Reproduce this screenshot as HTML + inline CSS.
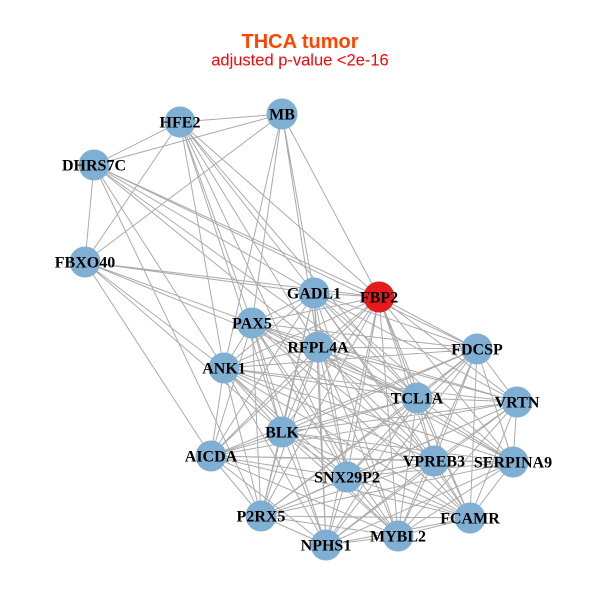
<!DOCTYPE html>
<html>
<head>
<meta charset="utf-8">
<style>
html,body{margin:0;padding:0;background:#fff;}
svg{display:block;}
.lbl{font-family:"Liberation Serif","DejaVu Serif",serif;font-weight:bold;font-size:16px;fill:#000;text-anchor:middle;}
</style>
</head>
<body>
<svg width="600" height="600" viewBox="0 0 600 600" xmlns="http://www.w3.org/2000/svg">
<rect width="600" height="600" fill="#fff"/>
<text x="300" y="48" text-anchor="middle" font-family="Liberation Sans, Arial, sans-serif" font-weight="bold" font-size="20" fill="#FF4500">THCA tumor</text>
<text x="300" y="65.5" text-anchor="middle" font-family="Liberation Sans, Arial, sans-serif" font-size="16.5" fill="#FF0000">adjusted p-value &lt;2e-16</text>

<g fill="none" stroke="#ABABAB" stroke-width="1">
<!-- top nodes -->
<path d="M180 122L282 114M180 122L94 165M180 122L85 262M180 122L224 368M180 122L252 323M180 122L282 432M180 122L318 347M180 122L314 293M180 122L379 297M180 122L417 398M180 122L347 477
M282 114L94 165M282 114L85 262M282 114L314 293M282 114L318 347M282 114L379 297M282 114L224 368M282 114L252 323
M94 165L85 262M94 165L261 516M94 165L224 368M94 165L318 347M94 165L314 293M94 165L379 297M94 165L477 349M94 165L417 398
M85 262L314 293M85 262L379 297M85 262L318 347M85 262L417 398M85 262L224 368M85 262L211 456M85 262L282 432"/>
<!-- cluster -->
<path d="M314 293L379 297M314 293L252 323M314 293L318 347M314 293L477 349M314 293L224 368M314 293L417 398M314 293L517 402M314 293L282 432M314 293L211 456M314 293L434 461M314 293L513 462M314 293L347 477M314 293L261 516M314 293L470 518M314 293L398 536M314 293L326 545
M379 297L252 323M379 297L318 347M379 297L477 349M379 297L224 368M379 297L417 398M379 297L517 402M379 297L282 432M379 297L211 456M379 297L434 461M379 297L513 462M379 297L347 477M379 297L261 516M379 297L470 518M379 297L398 536M379 297L326 545
M252 323L318 347M252 323L477 349M252 323L224 368M252 323L417 398M252 323L517 402M252 323L282 432M252 323L211 456M252 323L434 461M252 323L513 462M252 323L347 477M252 323L261 516M252 323L470 518M252 323L398 536M252 323L326 545
M318 347L477 349M318 347L224 368M318 347L417 398M318 347L517 402M318 347L282 432M318 347L211 456M318 347L434 461M318 347L513 462M318 347L347 477M318 347L261 516M318 347L470 518M318 347L398 536M318 347L326 545
M477 349L224 368M477 349L417 398M477 349L517 402M477 349L282 432M477 349L211 456M477 349L434 461M477 349L513 462M477 349L347 477M477 349L261 516M477 349L470 518M477 349L398 536M477 349L326 545
M224 368L417 398M224 368L517 402M224 368L282 432M224 368L211 456M224 368L434 461M224 368L513 462M224 368L347 477M224 368L261 516M224 368L470 518M224 368L398 536M224 368L326 545
M417 398L517 402M417 398L282 432M417 398L211 456M417 398L434 461M417 398L513 462M417 398L347 477M417 398L261 516M417 398L470 518M417 398L398 536M417 398L326 545
M517 402L282 432M517 402L211 456M517 402L434 461M517 402L513 462M517 402L347 477M517 402L261 516M517 402L470 518M517 402L398 536M517 402L326 545
M282 432L211 456M282 432L434 461M282 432L513 462M282 432L347 477M282 432L261 516M282 432L470 518M282 432L398 536M282 432L326 545
M211 456L434 461M211 456L513 462M211 456L347 477M211 456L261 516M211 456L470 518M211 456L398 536M211 456L326 545
M434 461L513 462M434 461L347 477M434 461L261 516M434 461L470 518M434 461L398 536M434 461L326 545
M513 462L347 477M513 462L261 516M513 462L470 518M513 462L398 536M513 462L326 545
M347 477L261 516M347 477L470 518M347 477L398 536M347 477L326 545
M261 516L470 518M261 516L398 536M261 516L326 545
M470 518L398 536M470 518L326 545
M398 536L326 545"/>
</g>

<g fill="#7FB0D4">
<circle cx="180" cy="122" r="15.5"/>
<circle cx="282" cy="114" r="15.5"/>
<circle cx="94" cy="165" r="15.5"/>
<circle cx="85" cy="262" r="15.5"/>
<circle cx="314" cy="293" r="15.5"/>
<circle cx="252" cy="323" r="15.5"/>
<circle cx="318" cy="347" r="15.5"/>
<circle cx="477" cy="349" r="15.5"/>
<circle cx="224" cy="368" r="15.5"/>
<circle cx="417" cy="398" r="15.5"/>
<circle cx="517" cy="402" r="15.5"/>
<circle cx="282" cy="432" r="15.5"/>
<circle cx="211" cy="456" r="15.5"/>
<circle cx="434" cy="461" r="15.5"/>
<circle cx="513" cy="462" r="15.5"/>
<circle cx="347" cy="477" r="15.5"/>
<circle cx="261" cy="516" r="15.5"/>
<circle cx="470" cy="518" r="15.5"/>
<circle cx="398" cy="536" r="15.5"/>
<circle cx="326" cy="545" r="15.5"/>
</g>
<circle cx="379" cy="297" r="15.5" fill="#E41A1C"/>

<g class="lbl">
<text class="lbl" x="180" y="127.5">HFE2</text>
<text class="lbl" x="282" y="119.5">MB</text>
<text class="lbl" x="94" y="170.5">DHRS7C</text>
<text class="lbl" x="85" y="267.5">FBXO40</text>
<text class="lbl" x="314" y="298.5">GADL1</text>
<text class="lbl" x="379" y="302.5">FBP2</text>
<text class="lbl" x="252" y="328.5">PAX5</text>
<text class="lbl" x="318" y="352.5">RFPL4A</text>
<text class="lbl" x="477" y="354.5">FDCSP</text>
<text class="lbl" x="224" y="373.5">ANK1</text>
<text class="lbl" x="417" y="403.5">TCL1A</text>
<text class="lbl" x="517" y="407.5">VRTN</text>
<text class="lbl" x="282" y="437.5">BLK</text>
<text class="lbl" x="211" y="461.5">AICDA</text>
<text class="lbl" x="434" y="466.5">VPREB3</text>
<text class="lbl" x="513" y="467.5">SERPINA9</text>
<text class="lbl" x="347" y="482.5">SNX29P2</text>
<text class="lbl" x="261" y="521.5">P2RX5</text>
<text class="lbl" x="470" y="523.5">FCAMR</text>
<text class="lbl" x="398" y="541.5">MYBL2</text>
<text class="lbl" x="326" y="550.5">NPHS1</text>
</g>
</svg>
</body>
</html>
